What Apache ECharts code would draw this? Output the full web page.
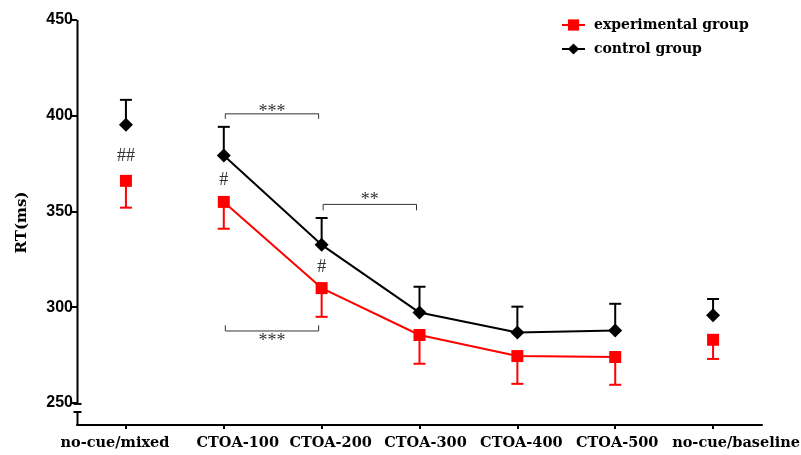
<!DOCTYPE html>
<html>
<head>
<meta charset="utf-8">
<script src="https://cdn.jsdelivr.net/npm/echarts@6.0.0/dist/echarts.min.js"></script>
<style>
  html, body { margin: 0; padding: 0; background: #fff; }
  #chart { width: 801px; height: 455px; }
</style>
</head>
<body>
<div id="chart"></div>
<script>
// categories along x
const categories = ['no-cue/mixed', 'CTOA-100', 'CTOA-200', 'CTOA-300', 'CTOA-400', 'CTOA-500', 'no-cue/baseline'];

// mean RT and error (drawn downward for experimental, upward for control)
const expMean = [366, 355, 310, 285.5, 274.5, 274, 283];
const expErr = [14, 14, 15, 15, 14.5, 14.5, 10];
const ctrlMean = [395.3, 379.2, 332.6, 297.2, 286.8, 287.8, 295.8];
const ctrlErr = [13, 15, 14, 13.5, 13.5, 14, 8.5];

// which points are joined by a line (CTOA conditions only)
const linked = [false, true, true, true, true, true, false];

// y ticks
const yTicks = [250, 300, 350, 400, 450];

// '#' markers between the groups
const hashX = [0, 1, 2];
const hashY = [379, 366.5, 321];
const hashText = ['##', '#', '#'];

// significance brackets
const bracketFrom = [1, 2, 1];
const bracketTo = [2, 3, 2];
const bracketY = [401, 353.7, 287.6];
const bracketTip = [398.4, 350.6, 290.6];
const bracketText = ['***', '**', '***'];
const bracketTextY = [402, 356, 282];

// label nudges (px) so labels sit like the original figure
const labelShift = [-11, 14, 9, 6, 4, 2, 23];

const serif = 'DejaVu Serif';
const RED = '#ff0000';

const chart = echarts.init(document.getElementById('chart'), null, { renderer: 'canvas' });

function errorBarItem(color) {
    return function (params, api) {
        const top = api.coord([api.value(0), api.value(1)]);
        const end = api.coord([api.value(0), api.value(2)]);
        return {
            type: 'group',
            children: [
                { type: 'line', shape: { x1: top[0], y1: top[1], x2: end[0], y2: end[1] }, style: { stroke: color, lineWidth: 2 } },
                { type: 'line', shape: { x1: end[0] - 6, y1: end[1], x2: end[0] + 6, y2: end[1] }, style: { stroke: color, lineWidth: 2 } }
            ]
        };
    };
}

const labelRich = {};
labelShift.forEach((s, i) => {
    labelRich['c' + i] = {
        fontFamily: serif, fontWeight: 'bold', fontSize: 14.5, color: '#000',
        padding: s >= 0 ? [0, 0, 0, 2 * s] : [0, -2 * s, 0, 0]
    };
});

const option = {
    animation: false,
    backgroundColor: '#fff',
    grid: { left: 77, right: 39, top: 20, bottom: 30, containLabel: false, outerBoundsMode: 'none' },
    legend: {
        orient: 'vertical',
        left: 556,
        top: 13,
        itemWidth: 23,
        itemHeight: 14,
        itemGap: 10,
        data: ['experimental group', 'control group'],
        textStyle: { fontFamily: serif, fontWeight: 'bold', fontSize: 14, color: '#000', padding: [0, 0, 0, 4] }
    },
    xAxis: {
        type: 'category',
        data: categories,
        boundaryGap: true,
        axisLine: { show: true, lineStyle: { color: '#000', width: 2 } },
        axisTick: { show: true, alignWithLabel: true, length: 4, lineStyle: { color: '#000', width: 2 } },
        axisLabel: {
            margin: 11,
            interval: 0,
            hideOverlap: false,
            formatter: function (v, i) { return '{c' + i + '|' + v + '}'; },
            rich: labelRich
        },
        splitLine: { show: false }
    },
    yAxis: {
        type: 'value',
        min: 238.5,
        max: 450,
        name: 'RT(ms)',
        nameLocation: 'middle',
        nameGap: 47,
        nameTextStyle: { color: '#000', fontFamily: serif, fontWeight: 'bold', fontSize: 15 },
        axisLine: { show: false },
        axisTick: { show: true, customValues: yTicks, length: 5, lineStyle: { color: '#000', width: 2 } },
        axisLabel: { show: true, customValues: yTicks, color: '#000', fontFamily: 'Liberation Sans', fontWeight: 'bold', fontSize: 16, margin: 4 },
        splitLine: { show: false }
    },
    series: [
        {
            // broken y axis line
            type: 'custom',
            silent: true,
            z: 1,
            data: [[0]],
            renderItem: function (params, api) {
                const cs = params.coordSys;
                const x = Math.round(cs.x) + 0.5;
                const yTop = api.coord([0, 450])[1];
                const yBreakA = api.coord([0, 249.5])[1];
                const yBreakB = api.coord([0, 245.3])[1];
                const yBottom = cs.y + cs.height;
                const st = { stroke: '#000', lineWidth: 2 };
                return {
                    type: 'group',
                    children: [
                        { type: 'line', shape: { x1: x, y1: yTop, x2: x, y2: yBreakA }, style: st },
                        { type: 'line', shape: { x1: x - 4, y1: yBreakA, x2: x + 4, y2: yBreakA }, style: st },
                        { type: 'line', shape: { x1: x - 4, y1: yBreakB, x2: x + 4, y2: yBreakB }, style: st },
                        { type: 'line', shape: { x1: x, y1: yBreakB, x2: x, y2: yBottom }, style: st }
                    ]
                };
            }
        },
        {
            type: 'custom',
            name: 'exp-err',
            z: 2,
            data: categories.map((c, i) => [i, expMean[i], expMean[i] - expErr[i]]),
            renderItem: errorBarItem(RED)
        },
        {
            type: 'custom',
            name: 'ctrl-err',
            z: 2,
            data: categories.map((c, i) => [i, ctrlMean[i], ctrlMean[i] + ctrlErr[i]]),
            renderItem: errorBarItem('#000')
        },
        {
            type: 'line',
            name: 'experimental group',
            z: 3,
            data: expMean.map((v, i) => linked[i] ? v : '-'),
            symbol: 'rect',
            symbolSize: 12,
            itemStyle: { color: RED, opacity: 1 },
            lineStyle: { color: RED, width: 2 }
        },
        {
            type: 'line',
            name: 'control group',
            z: 3,
            data: ctrlMean.map((v, i) => linked[i] ? v : '-'),
            symbol: 'diamond',
            symbolSize: 14,
            itemStyle: { color: '#000', opacity: 1 },
            lineStyle: { color: '#000', width: 2 }
        },
        {
            type: 'scatter',
            name: 'exp-single',
            z: 3,
            data: expMean.map((v, i) => [i, v]).filter((d, i) => !linked[i]),
            symbol: 'rect',
            symbolSize: 12,
            itemStyle: { color: RED, opacity: 1 }
        },
        {
            type: 'scatter',
            name: 'ctrl-single',
            z: 3,
            data: ctrlMean.map((v, i) => [i, v]).filter((d, i) => !linked[i]),
            symbol: 'diamond',
            symbolSize: 14,
            itemStyle: { color: '#000', opacity: 1 }
        },
        {
            // # marks
            type: 'custom',
            silent: true,
            z: 4,
            data: hashX.map((x, i) => [x, hashY[i], i]),
            renderItem: function (params, api) {
                const p = api.coord([api.value(0), api.value(1)]);
                return {
                    type: 'text',
                    x: p[0],
                    y: p[1],
                    style: { text: hashText[api.value(2)], fontFamily: 'Liberation Serif', fontSize: 18, fill: '#333', align: 'center', verticalAlign: 'middle' }
                };
            }
        },
        {
            // significance brackets
            type: 'custom',
            silent: true,
            z: 4,
            data: bracketFrom.map((f, i) => [f, bracketTo[i], bracketY[i], bracketTip[i], bracketTextY[i], i]),
            renderItem: function (params, api) {
                const a = api.coord([api.value(0), api.value(2)]);
                const b = api.coord([api.value(1), api.value(2)]);
                const tipY = api.coord([api.value(0), api.value(3)])[1];
                const textY = api.coord([api.value(0), api.value(4)])[1];
                const x1 = a[0] + 1.5, x2 = b[0] - 3;
                const st = { stroke: '#333', lineWidth: 1 };
                return {
                    type: 'group',
                    children: [
                        { type: 'polyline', shape: { points: [[x1, tipY], [x1, a[1]], [x2, b[1]], [x2, tipY]] }, style: Object.assign({ fill: null }, st) },
                        {
                            type: 'text',
                            x: (x1 + x2) / 2,
                            y: textY,
                            style: { text: bracketText[api.value(5)], fontFamily: 'Liberation Serif', fontSize: 18, fill: '#333', align: 'center', verticalAlign: 'middle' }
                        }
                    ]
                };
            }
        }
    ]
};

chart.setOption(option);
</script>
</body>
</html>
